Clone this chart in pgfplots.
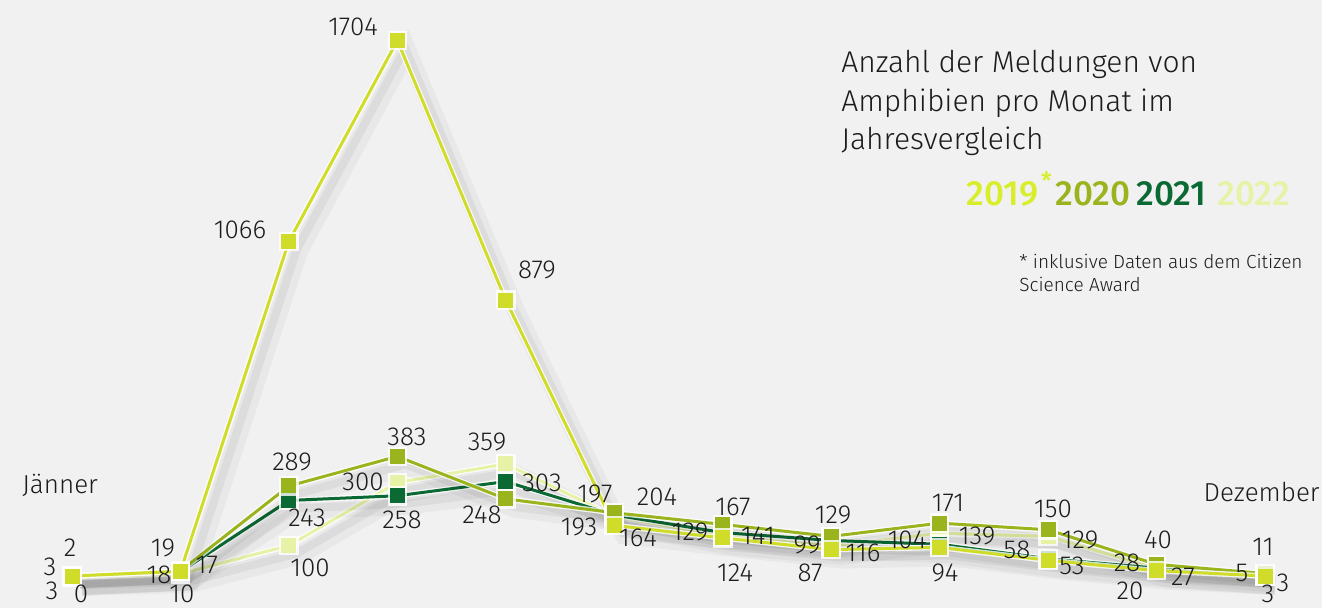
\documentclass[border=0pt]{standalone}
\usepackage{fontspec}
\setmainfont{Fira Sans Light}
\newfontfamily\yearfont{Fira Sans Medium}
\usepackage{pgfplots}
\usepackage{pgfplotstable}
\pgfplotsset{compat=1.18}

\definecolor{bgc}{HTML}{F1F1F1}
\definecolor{txt}{HTML}{1C1C1C}
\definecolor{c19}{HTML}{CFDC2A}
\definecolor{l19}{HTML}{D8EE2A}
\definecolor{c20}{HTML}{9AB41E}
\definecolor{c21}{HTML}{0B6A33}
\definecolor{c22}{HTML}{E8F2A6}

% month, 2019, 2020, 2021, 2022
\pgfplotstableread{
m  a19  a20  a21  a22
1  3    3    2    0
2  18   19   17   10
3  1066 289  243  100
4  1704 383  258  300
5  879  248  303  359
6  164  204  197  193
7  124  167  141  129
8  87   129  116  99
9  94   171  104  139
10 53   150  58   129
11 20   40   28   27
12 3    11   5    3
}\meldungen

\newcommand{\serie}[2]{%
  \addplot[black, opacity=0.035, line width=9pt, xshift=5pt, yshift=-5pt]
    table[x=m, y=#1] {\meldungen};
  \addplot[black, opacity=0.05, line width=4pt, xshift=4pt, yshift=-4pt]
    table[x=m, y=#1] {\meldungen};
  \addplot[white, opacity=0.8, line width=2.8pt, mark=square*, mark size=3.5pt,
    mark options={fill=white, draw=white}]
    table[x=m, y=#1] {\meldungen};
  \addplot[#2, line width=1.5pt, mark=square*, mark size=3pt,
    mark options={fill=#2, draw=#2}]
    table[x=m, y=#1] {\meldungen};
}

\begin{document}
\begin{tikzpicture}
\begin{scope}[x=0.5pt, y=-0.5pt]
  \fill[bgc] (0,0) rectangle (1322,608);
\end{scope}
\begin{axis}[
  at={(0,-304pt)}, anchor=south west,
  width=661pt, height=304pt, scale only axis,
  xmin=0.3361, xmax=12.5256, ymin=-98.5, ymax=1832.6,
  hide axis, clip=false,
]
\serie{a22}{c22}
\serie{a21}{c21}
\serie{a20}{c20}
\serie{a19}{c19}
\end{axis}
\begin{scope}[x=0.5pt, y=-0.5pt, txt, font=\fontsize{13}{15}\selectfont,
  every node/.style={inner sep=1pt}]
  % Jänner
  \node at (70,548) {2};  \node at (50,567) {3};
  \node at (52,591) {3};  \node at (81,594) {0};
  % Februar
  \node at (163,548) {19}; \node at (159,575) {18};
  \node at (207,565) {17}; \node at (182,594) {10};
  % März
  \node at (240,230) {1066}; \node at (292,462) {289};
  \node at (307,518) {243};  \node at (310,568) {100};
  % April
  \node at (353,27) {1704}; \node at (407,437) {383};
  \node at (363,482) {300}; \node at (402,520) {258};
  % Mai
  \node at (537,270) {879}; \node at (487,442) {359};
  \node at (542,483) {303}; \node at (482,515) {248};
  % Juni
  \node at (595,494) {197}; \node at (579,527) {193};
  \node at (657,497) {204}; \node at (638,538) {164};
  % Juli
  \node at (690,532) {129}; \node at (733,507) {167};
  \node at (758,536) {141}; \node at (735,573) {124};
  % August
  \node at (807,545) {99};  \node at (833,515) {129};
  \node at (863,553) {116}; \node at (810,573) {87};
  % September
  \node at (907,540) {104}; \node at (948,503) {171};
  \node at (977,536) {139}; \node at (945,573) {94};
  % Oktober
  \node at (1017,550) {58}; \node at (1053,509) {150};
  \node at (1080,540) {129}; \node at (1072,566) {53};
  % November
  \node at (1127,563) {28}; \node at (1130,591) {20};
  \node at (1158,540) {40}; \node at (1183,577) {27};
  % Dezember
  \node at (1263,547) {11}; \node at (1242,573) {5};
  \node at (1283,583) {3};  \node at (1268,594) {3};
  % Monatsnamen
  \node[anchor=base west, inner sep=0pt] at (22,494) {Jänner};
  \node[anchor=base east, inner sep=0pt] at (1320,502) {Dezember};
  % Titel
  \begin{scope}[font=\fontsize{15}{19}\selectfont]
    \node[anchor=base west, inner sep=0pt] at (841,73) {Anzahl der Meldungen von};
    \node[anchor=base west, inner sep=0pt] at (841,112) {Amphibien pro Monat im};
    \node[anchor=base west, inner sep=0pt] at (841,150) {Jahresvergleich};
  \end{scope}
  \begin{scope}[font=\fontsize{17.5}{20}\yearfont]
    \node[anchor=base west, inner sep=0pt, l19] at (966,206)
      {2019\hspace{1.5pt}\raisebox{8pt}{\fontsize{12}{14}\selectfont *}};
    \node[anchor=base west, inner sep=0pt, c20] at (1055,206) {2020};
    \node[anchor=base west, inner sep=0pt, c21] at (1136,206) {2021};
    \node[anchor=base west, inner sep=0pt, c22] at (1217,206) {2022};
  \end{scope}
  \begin{scope}[font=\fontsize{9.5}{11}\selectfont]
    \node[anchor=base west, inner sep=0pt] at (1019,269) {* inklusive Daten aus dem Citizen};
    \node[anchor=base west, inner sep=0pt] at (1019,292) {Science Award};
  \end{scope}
  \pgfresetboundingbox
  \useasboundingbox (0,0) rectangle (1322,608);
\end{scope}
\end{tikzpicture}
\end{document}
